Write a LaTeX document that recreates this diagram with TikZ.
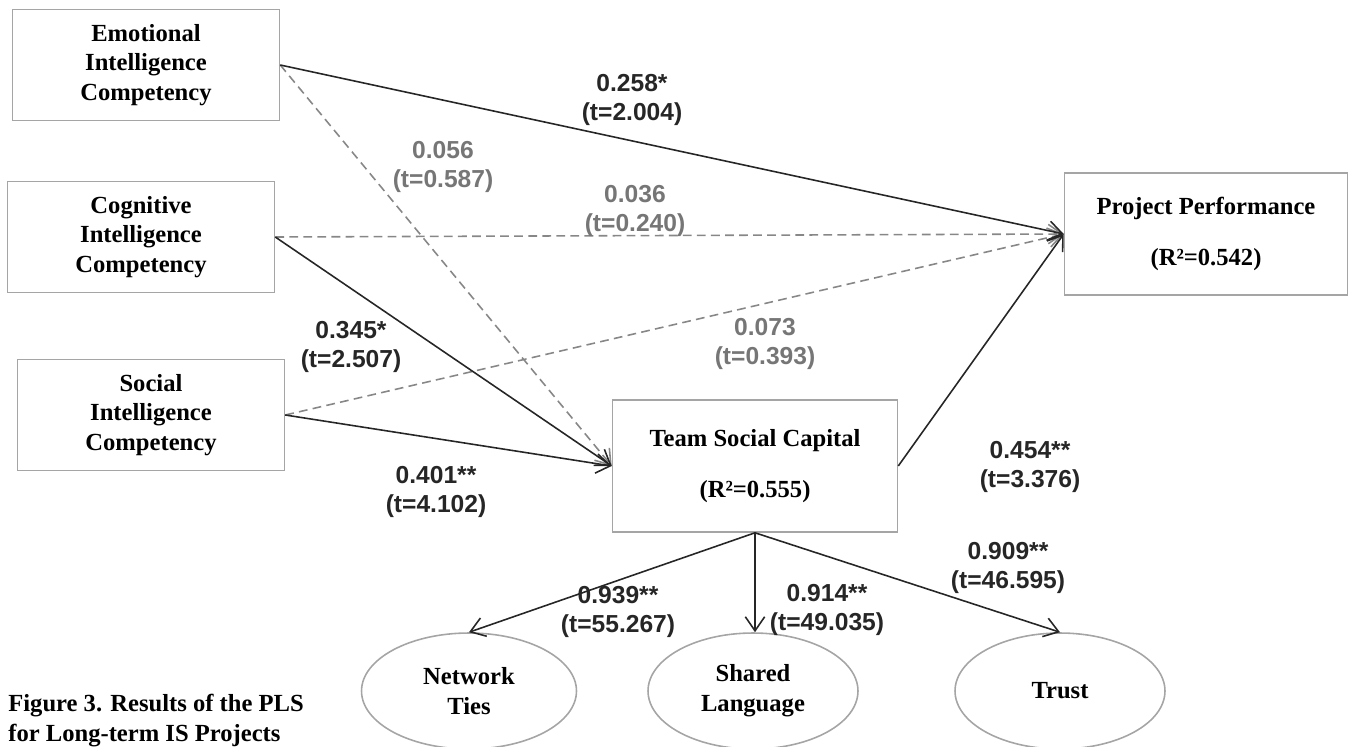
\documentclass[tikz,border=0pt]{standalone}
\usepackage{fontspec}
\setmainfont{Liberation Serif}
\setsansfont{Liberation Sans}
\usepackage{xcolor}
\usetikzlibrary{arrows.meta,shapes.geometric}

\definecolor{framegray}{RGB}{165,165,165}
\definecolor{pathgray}{RGB}{135,135,135}
\definecolor{textgray}{RGB}{118,118,118}

\begin{document}
\begin{tikzpicture}[x=0.02cm, y=-0.02cm,
    construct/.style={draw=framegray, line width=0.9pt, align=center,
      font=\bfseries\fontsize{14}{17}\selectfont,
      minimum width=5.34cm, minimum height=2.22cm},
    dimension/.style={ellipse, draw=framegray, line width=0.9pt, align=center,
      font=\bfseries\fontsize{14}{17}\selectfont,
      minimum width=4.2cm, minimum height=2.32cm},
    coef/.style={align=center, text=black!85,
      font=\sffamily\bfseries\fontsize{14}{17}\selectfont},
    nscoef/.style={coef, text=textgray},
    sig/.style={draw=black!85, line width=0.9pt,
      -{Straight Barb[length=8pt,width=11pt]}},
    nonsig/.style={draw=pathgray, line width=0.9pt, dash pattern=on 5pt off 3pt,
      -{Straight Barb[length=8pt,width=11pt]}}]
  \useasboundingbox (0,0) rectangle (1350,747);

  % constructs
  \node[construct] (EIC) at (146,65) {Emotional\\Intelligence\\Competency};
  \node[construct] (CIC) at (141,237) {Cognitive\\Intelligence\\Competency};
  \node[construct] (SIC) at (151,415) {Social\\Intelligence\\Competency};
  \node[construct, minimum width=5.66cm, minimum height=2.44cm] (PP) at (1206,234)
    {Project Performance\\[12pt](R²=0.542)};
  \node[construct, minimum width=5.7cm, minimum height=2.64cm] (TSC) at (755,466)
    {Team Social Capital\\[12pt](R²=0.555)};

  % dimensions of social capital
  \node[dimension, minimum width=4.3cm] (NT) at (469,691) {Network\\Ties};
  \node[dimension] (SL) at (753,691) {Shared\\Language};
  \node[dimension] (TR) at (1060,691) {Trust};

  % paths
  \path (EIC.east) edge[nonsig] (TSC.west)
        (CIC.east) edge[nonsig] (PP.west)
        (SIC.east) edge[nonsig] (PP.west);
  \path (EIC.east) edge[sig] (PP.west)
        (CIC.east) edge[sig] (TSC.west)
        (SIC.east) edge[sig] (TSC.west)
        (TSC.east) edge[sig] (PP.west)
        (TSC.south) edge[sig] (NT.north)
        (TSC.south) edge[sig] (TSC.south |- SL.north)
        (TSC.south) edge[sig] (TR.north);

  % coefficients
  \node[coef] (c1) at (632,100) {0.258*\\(t=2.004)};
  \node[nscoef] (c2) at (443,167) {0.056\\(t=0.587)};
  \node[nscoef] (c3) at (635,211) {0.036\\(t=0.240)};
  \node[coef] (c4) at (351,347) {0.345*\\(t=2.507)};
  \node[nscoef] (c5) at (765,344) {0.073\\(t=0.393)};
  \node[coef] (c6) at (1030,467) {0.454**\\(t=3.376)};
  \node[coef] (c7) at (436,492) {0.401**\\(t=4.102)};
  \node[coef] (c8) at (618,612) {0.939**\\(t=55.267)};
  \node[coef] (c9) at (827,610) {0.914**\\(t=49.035)};
  \node[coef] (c10) at (1008,568) {0.909**\\(t=46.595)};

  % caption
  \node[anchor=base west, align=left, inner sep=0pt,
    font=\bfseries\fontsize{14}{17}\selectfont] (cap) at (8,741)
    {Figure 3. Results of the PLS\\for Long-term IS Projects};
\end{tikzpicture}
\end{document}
